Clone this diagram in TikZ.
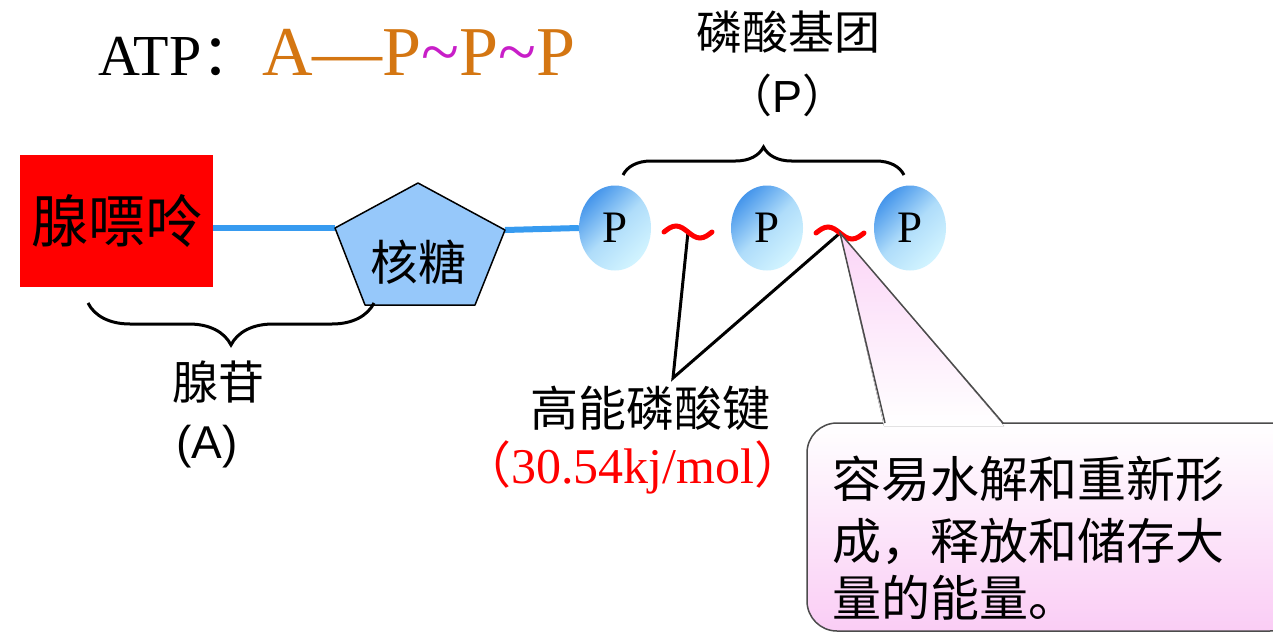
\documentclass[tikz,border=0pt]{standalone}
\usepackage{fontspec}
\setmainfont{Liberation Serif}
\setsansfont{Liberation Sans}
\newfontfamily\cjk{Noto Sans CJK SC}
\usepackage{xcolor}
\usetikzlibrary{calc, decorations.pathreplacing, positioning, shapes.geometric}
\definecolor{atporange}{RGB}{212,118,18}
\definecolor{tildemagenta}{RGB}{200,30,200}
\definecolor{linkblue}{RGB}{55,155,240}
\definecolor{ribblue}{RGB}{150,200,250}
\definecolor{balldark}{RGB}{70,150,235}
\definecolor{balllight}{RGB}{210,244,255}
\definecolor{calloutpink}{RGB}{250,205,245}
\newcommand\pxfont[1]{\fontsize{#1}{#1}\selectfont}

\begin{document}
\begin{tikzpicture}[x=1pt, y=-1pt,
    link/.style={linkblue, line width=6pt},
    ribose/.style={fill=ribblue, draw=black, line width=1.5pt, line join=round},
    ball/.style={ellipse, minimum width=72pt, minimum height=85pt, inner sep=0pt,
      top color=balldark, bottom color=balllight, middle color=balllight!75!balldark,
      shading angle=45, font=\pxfont{45}},
    groupbrace/.style={decorate, decoration={brace, amplitude=#1}, line width=3pt},
    bondwave/.style={red, line width=5pt, line cap=round},
    leader/.style={black, line width=3pt, line join=miter},
    callout/.style={draw=black!70, line width=1.5pt, rounded corners=30pt,
      top color=white, bottom color=calloutpink},
    pointer/.style={top color=calloutpink!85, bottom color=white},
    pointerside/.style={draw=black!70, line width=1.5pt}]
  \useasboundingbox (0,0) rectangle (1273,634);
  \fill[white] (0,0) rectangle (1273,634);
  \clip (0,0) rectangle (1273,634);
  % Formula
  \node[anchor=base west, inner sep=0pt, font=\pxfont{58}] (atp) at (98,75) {ATP{\cjk ：}};
  \node[anchor=base west, inner sep=0pt, font=\pxfont{70}, text=atporange] (formula) at (262,75)
    {A---P{\color{tildemagenta}\textasciitilde}P{\color{tildemagenta}\textasciitilde}P};
  % Adenine and ribose
  \node[fill=red, minimum width=193pt, minimum height=132pt, inner sep=0pt, font=\cjk\pxfont{57}] (adenine) at (116.5,221) {腺嘌呤};
  \coordinate (rib-w) at (335,228);
  \coordinate (rib-e) at (505,230);
  \node[ball] (p1) at (615,228) {P};
  \node[ball] (p2) at (767,228) {P};
  \node[ball] (p3) at (910,228) {P};
  \draw[link] (adenine.east |- rib-w) -- (rib-w);
  \draw[link] (rib-e) -- (p1.west);
  \draw[ribose] (418,183) -- (rib-e) -- (475,305) -- (365,305) -- (rib-w) -- cycle;
  \node[font=\cjk\pxfont{48}] (ribosetxt) at (418,262) {核糖};
  % Phosphate group
  \coordinate (pb-l) at (623,175);
  \coordinate (pb-r) at (904,175);
  \draw[groupbrace=28pt] (pb-l) -- (pb-r);
  \node[font=\cjk\pxfont{46}] (phos) at (788,32) {磷酸基团};
  \node[font=\sffamily\pxfont{45}] (phosP) at (787,95) {{\cjk （}P{\cjk ）}};
  % Adenosine
  \coordinate (ab-r) at (374,303);
  \coordinate (ab-l) at (88,303);
  \draw[groupbrace=42pt] (ab-r) -- (ab-l);
  \node[font=\cjk\pxfont{46}] (adenosine) at (218,382) {腺苷};
  \node[font=\sffamily\pxfont{46}] (adenosineA) at (207,447) {(A)};
  % High energy bonds
  \coordinate (b1) at (688,232);
  \coordinate (b2) at (840,233);
  \coordinate (apex) at (673,378);
  \draw[leader] (b1) -- (apex) -- (b2);
  \foreach \b in {b1, b2}
    \draw[bondwave] (\b) ++(-24,0) sin ++(12,-6) cos ++(12,6) sin ++(12,6) cos ++(12,-6);
  \node[font=\cjk\pxfont{48}] (hebond) at (650,408) {高能磷酸键};
  \node[font=\pxfont{50}, text=red] (energy) at (633,467) {{\cjk （}30.54kj/mol{\cjk ）}};
  % Callout
  \coordinate (cp-l) at (885,423);
  \coordinate (cp-r) at (1003,423);
  \draw[callout] (807,423) rectangle (1300,631);
  \fill[pointer] (cp-l) ++(-1,3) -- (b2) -- ($(cp-r)+(1,3)$) -- cycle;
  \draw[pointerside] (cp-l) -- (b2) -- (cp-r);
  \node[anchor=base west, inner sep=0pt, font=\cjk\pxfont{49}] (note1) at (832,497) {容易水解和重新形};
  \node[anchor=base west, inner sep=0pt, font=\cjk\pxfont{49}] (note2) at (832,559) {成，释放和储存大};
  \node[anchor=base west, inner sep=0pt, font=\cjk\pxfont{49}] (note3) at (832,616) {量的能量。};
\end{tikzpicture}
\end{document}
